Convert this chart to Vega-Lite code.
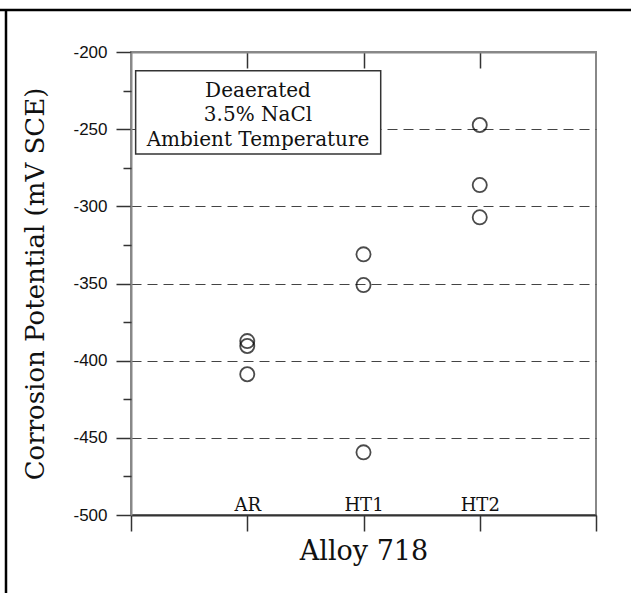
{
  "$schema": "https://vega.github.io/schema/vega-lite/v6.json",
  "width": 465,
  "height": 463,
  "autosize": {"type": "none"},
  "padding": {"left": 131, "top": 52, "right": 35, "bottom": 78},
  "background": "white",
  "config": {
    "view": {"stroke": "#888", "strokeWidth": 2}
  },
  "datasets": {
    "points": [
      {"alloy": "AR", "potential": -387.3},
      {"alloy": "AR", "potential": -390.5},
      {"alloy": "AR", "potential": -408.8},
      {"alloy": "HT1", "potential": -331.1},
      {"alloy": "HT1", "potential": -351.0},
      {"alloy": "HT1", "potential": -459.4},
      {"alloy": "HT2", "potential": -247.3},
      {"alloy": "HT2", "potential": -286.2},
      {"alloy": "HT2", "potential": -307.1}
    ],
    "note": [{"line1": "Deaerated", "line2": "3.5% NaCl", "line3": "Ambient Temperature"}]
  },
  "layer": [
    {
      "data": {"name": "points"},
      "mark": {"type": "point", "shape": "circle", "filled": false, "size": 200, "stroke": "black", "strokeWidth": 1.8},
      "encoding": {
        "x": {
          "field": "alloy", "type": "nominal",
          "scale": {"type": "point", "domain": [" ", "AR", "HT1", "HT2", "  "], "padding": 0},
          "axis": {
            "orient": "bottom", "title": "Alloy 718", "titleFont": "DejaVu Serif", "titleFontSize": 27, "titleFontWeight": "normal", "titleColor": "#111",
            "titleX": 232.5, "titleY": 44, "titleBaseline": "alphabetic", "titleAlign": "center",
            "tickSize": 16, "tickColor": "#333", "tickWidth": 1.5, "domainColor": "#333", "domainWidth": 2,
            "labelAngle": 0, "labelFont": "DejaVu Serif", "labelFontSize": 18, "labelColor": "#111", "labelBaseline": "alphabetic", "labelPadding": -21, "grid": false
          }
        },
        "y": {
          "field": "potential", "type": "quantitative",
          "scale": {"domain": [-500, -200], "nice": false, "zero": false},
          "axis": {
            "orient": "left",
            "values": [-500, -450, -400, -350, -300, -250, -200],
            "labelExpr": "'' + datum.value",
            "tickSize": 15, "tickColor": "#333", "tickWidth": 1.5,
            "domainColor": "#888", "domainWidth": 2,
            "labelFont": "Liberation Sans Narrow, Liberation Sans", "labelFontSize": 17, "labelColor": "#111", "labelPadding": 9,
            "grid": true, "gridDash": [10, 6], "gridColor": "#444", "gridWidth": 1.2,
            "gridOpacity": {"condition": {"test": "datum.value === -200 || datum.value === -500", "value": 0}, "value": 1},
            "title": "Corrosion Potential (mV SCE)", "titleFont": "DejaVu Serif", "titleFontSize": 26, "titleFontWeight": "normal", "titleColor": "#111",
            "titleAngle": 270, "titleX": -96, "titleY": 231.5, "titleAlign": "center", "titleBaseline": "middle"
          }
        }
      }
    },
    {
      "data": {"name": "note"},
      "layer": [
        {
          "mark": {"type": "rect", "fill": "white", "stroke": "#333", "strokeWidth": 1.5},
          "encoding": {
            "x": {"datum": 0.04, "type": "quantitative", "scale": {"domain": [0, 4], "nice": false, "zero": false},
              "axis": {"orient": "top", "values": [1, 2, 3], "tickSize": -16, "tickColor": "#333", "tickWidth": 1.5, "labels": false, "title": null, "domainColor": "#888", "domainWidth": 2, "grid": false}},
            "x2": {"datum": 2.148},
            "y": {"datum": -212.1, "type": "quantitative",
              "axis": {"orient": "left", "values": [-475, -425, -375, -325, -275, -225], "tickSize": 8, "tickColor": "#333", "tickWidth": 1.5, "labels": false, "domain": false, "grid": false, "title": null}},
            "y2": {"datum": -266.1}
          }
        },
        {
          "mark": {"type": "text", "align": "center", "baseline": "alphabetic", "font": "DejaVu Serif", "fontSize": 20, "lineHeight": 24.5, "color": "#111"},
          "encoding": {
            "x": {"datum": 1.0925, "type": "quantitative"},
            "y": {"datum": -228.96, "type": "quantitative"},
            "text": {"value": ["Deaerated", "3.5% NaCl", "Ambient Temperature"]}
          }
        },
        {
          "mark": {"type": "rule", "color": "black", "strokeWidth": 2.5},
          "encoding": {
            "x": {"datum": -1.127, "type": "quantitative"},
            "x2": {"datum": 4.301},
            "y": {"datum": -172.79, "type": "quantitative"}
          }
        },
        {
          "mark": {"type": "rule", "color": "black", "strokeWidth": 2.5},
          "encoding": {
            "x": {"datum": -1.0753, "type": "quantitative"},
            "y": {"datum": -172.14, "type": "quantitative"},
            "y2": {"datum": -551}
          }
        }
      ]
    }
  ],
  "resolve": {"scale": {"x": "independent"}, "axis": {"x": "independent", "y": "independent"}}
}
